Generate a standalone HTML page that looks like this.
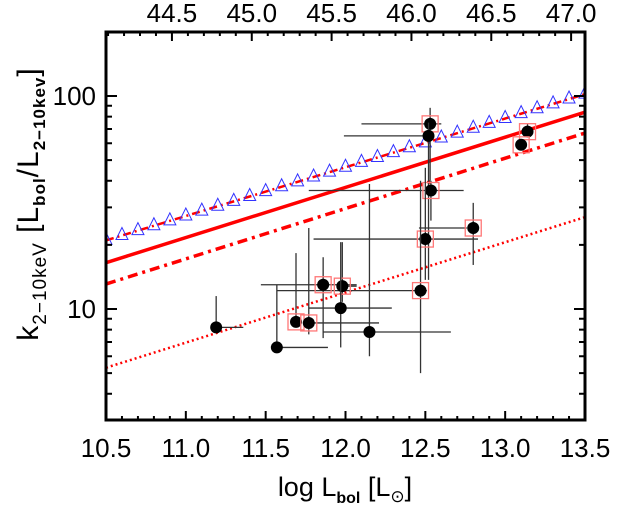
<!DOCTYPE html>
<html><head><meta charset="utf-8"><style>
html,body{margin:0;padding:0;background:#fff;}
svg{display:block;font-family:"Liberation Sans",sans-serif;}
</style></head><body>
<svg id="chart" width="631" height="507" viewBox="0 0 631 507" xmlns="http://www.w3.org/2000/svg">
<defs><clipPath id="pc"><rect x="106" y="32" width="479" height="388"/></clipPath></defs>
<g id="lines" clip-path="url(#pc)"></g>
<g id="pts"></g>
<rect x="106" y="32" width="479" height="388" fill="none" stroke="#000" stroke-width="3"/>
<g id="axes"></g>
<text x="345" y="496" font-size="27" text-anchor="middle">log L<tspan font-size="16" dy="7" font-weight="bold">bol</tspan><tspan dy="-7"> [L</tspan><tspan font-size="17" dy="6">⊙</tspan><tspan dy="-6">]</tspan></text>
<text transform="translate(38,204) rotate(-90)" font-size="30" text-anchor="middle" letter-spacing="1">k<tspan font-size="19" dy="8">2−10keV</tspan><tspan dy="-8"> [L</tspan><tspan font-size="17" dy="7" font-weight="bold">bol</tspan><tspan dy="-7">/L</tspan><tspan font-size="17" dy="7" font-weight="bold">2−10kev</tspan><tspan dy="-7">]</tspan></text>
</svg>
<script>
const ptX=[12.53,12.52,12.535,12.50,12.80,13.14,13.10,12.47,11.86,11.98,11.97,11.69,11.77,12.15,11.19,11.57];
const ptY=[74,65,36,21.3,24,68,59,12.2,13,12.8,10.1,8.7,8.6,7.8,8.2,6.6];
const xLo=[12.10,11.99,11.77,11.80,12.46,13.14,13.10,11.57,11.47,11.98,11.77,11.69,11.77,11.86,11.19,11.57];
const xHi=[12.60,12.53,12.74,12.83,12.76,13.14,13.10,12.51,12.07,12.07,12.29,11.69,12.21,12.66,11.36,11.89];
const yLo=[40,13.7,26,13.7,16.1,68,59,5.0,7.3,10.8,6.6,8.7,7.6,6.0,8.2,6.6];
const yHi=[88,75,40,46,31.5,74,59,40,17.5,20.6,20.6,18.3,24,38.6,11.5,13];
const boxed=[1,0,1,1,1,1,1,1,1,1,0,1,1,0,0,0];
const lineX=[10.5,13.5];
const triY=[21,102];
const solidY=[16.5,84];
const dashdotY=[13.1,67];
const dottedY=[5.3,27];
const xTicks=["10.5","11.0","11.5","12.0","12.5","13.0","13.5"];
const topTicks=["44.5","45.0","45.5","46.0","46.5","47.0"];
const yTicks=["10","100"];
const NS="http://www.w3.org/2000/svg";
const X0=106,X1=585,Y0=32,Y1=420;
const xs=v=>X0+(v-10.5)/3*(X1-X0);
const ys=v=>309-(Math.log10(v)-1)*213;
function mk(p,t,a){const e=document.createElementNS(NS,t);for(const k in a)e.setAttribute(k,a[k]);p.appendChild(e);return e;}
const L=document.getElementById('lines'),P=document.getElementById('pts'),A=document.getElementById('axes');
function interp(arr,x){const t=(x-lineX[0])/(lineX[1]-lineX[0]);return Math.pow(10,Math.log10(arr[0])+t*(Math.log10(arr[1])-Math.log10(arr[0])));}
function ln(arr,name,dash,w){const e=mk(L,'line',{x1:xs(lineX[0]),y1:ys(arr[0]),x2:xs(lineX[1]),y2:ys(arr[1]),stroke:'#f00','stroke-width':w,'stroke-dasharray':dash});

}
ln(triY,'relation-line-dashed','8 4 2 4',2.5);
ln(solidY,'relation-line-solid','none',3.5);
ln(dashdotY,'relation-line-dashdot','10 5 3 5',3.5);
ln(dottedY,'relation-line-dotted','2 3',2.5);
for(let i=0;i<=30;i++){const x=lineX[0]+i*(lineX[1]-lineX[0])/30;const cx=xs(x),cy=ys(interp(triY,x));
const t=mk(L,'polygon',{points:`${cx-6},${cy+4} ${cx+6},${cy+4} ${cx},${cy-8}`,fill:'none',stroke:'#33f','stroke-width':1});

}
for(let i=0;i<ptX.length;i++){const g=mk(P,'g',{});


mk(g,'line',{x1:xs(xLo[i]),x2:xs(xHi[i]),y1:ys(ptY[i]),y2:ys(ptY[i]),stroke:'#333','stroke-width':1.3});
mk(g,'line',{x1:xs(ptX[i]),x2:xs(ptX[i]),y1:ys(yLo[i]),y2:ys(yHi[i]),stroke:'#333','stroke-width':1.3});
if(boxed[i])mk(g,'rect',{x:xs(ptX[i])-8,y:ys(ptY[i])-8,width:16,height:16,fill:'none',stroke:'#f77','stroke-width':1.3});
mk(g,'circle',{cx:xs(ptX[i]),cy:ys(ptY[i]),r:6,fill:'#000'});}
for(let i=0;i<=30;i++){const x=X0+i*(X1-X0)/30;const len=i%5==0?9:4;
mk(A,'line',{x1:x,x2:x,y1:Y1,y2:Y1-len,stroke:'#000','stroke-width':2});}
xTicks.forEach((s,i)=>{const t=mk(A,'text',{x:xs(parseFloat(s)),y:457,'font-size':26,'text-anchor':'middle'});t.textContent=s;

});
const off=33.587;
for(let v=44.1;v<=47.1;v+=0.1){const x=xs(v-off);if(x<X0||x>X1)continue;const major=Math.abs(v*2-Math.round(v*2))<0.01;
mk(A,'line',{x1:x,x2:x,y1:Y0,y2:Y0+(major?9:4),stroke:'#000','stroke-width':2});}
topTicks.forEach(s=>{const t=mk(A,'text',{x:xs(parseFloat(s)-off),y:22,'font-size':26,'text-anchor':'middle'});t.textContent=s;

});
[1,10,100].forEach(d=>{for(let m=1;m<10;m++){const v=d*m;const y=ys(v);if(y<Y0||y>Y1)continue;const len=m==1?11:6;
mk(A,'line',{x1:X0,x2:X0+len,y1:y,y2:y,stroke:'#000','stroke-width':2});
mk(A,'line',{x1:X1,x2:X1-len,y1:y,y2:y,stroke:'#000','stroke-width':2});}});
yTicks.forEach(s=>{const t=mk(A,'text',{x:96,y:ys(parseFloat(s))+9,'font-size':26,'text-anchor':'end'});t.textContent=s;

});
</script>
</body></html>
